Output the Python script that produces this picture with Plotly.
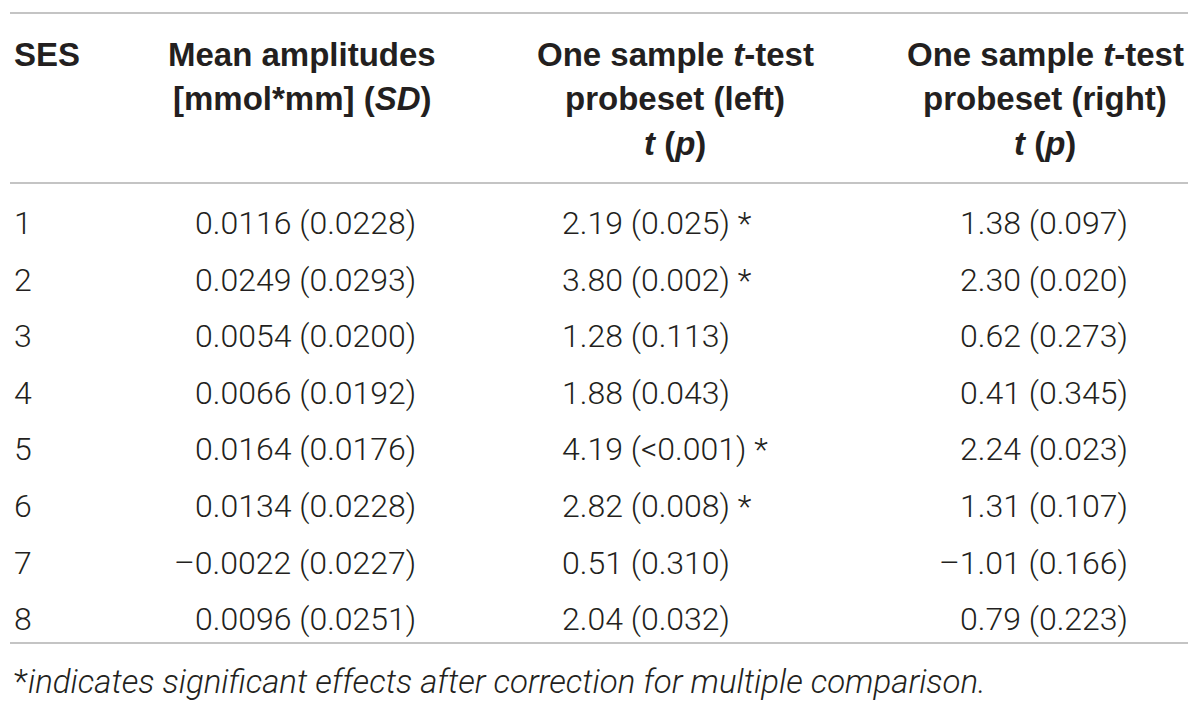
import plotly.graph_objects as go

# ---- data ----
ses = ["1", "2", "3", "4", "5", "6", "7", "8"]
mean_amp = ["0.0116", "0.0249", "0.0054", "0.0066", "0.0164", "0.0134", "–0.0022", "0.0096"]
mean_sd = ["0.0228", "0.0293", "0.0200", "0.0192", "0.0176", "0.0228", "0.0227", "0.0251"]
t_left = ["2.19", "3.80", "1.28", "1.88", "4.19", "2.82", "0.51", "2.04"]
p_left = ["0.025", "0.002", "0.113", "0.043", "<0.001", "0.008", "0.310", "0.032"]
sig_left = [True, True, False, False, True, True, False, False]
t_right = ["1.38", "2.30", "0.62", "0.41", "2.24", "1.31", "–1.01", "0.79"]
p_right = ["0.097", "0.020", "0.273", "0.345", "0.023", "0.107", "0.166", "0.223"]

header_ses = ["SES"]
header_mean = ["Mean amplitudes", "[mmol*mm] (<i>SD</i>)"]
header_left = ["One sample <i>t</i>-test", "probeset (left)", "<i>t</i> (<i>p</i>)"]
header_right = ["One sample <i>t</i>-test", "probeset (right)", "<i>t</i> (<i>p</i>)"]
footnote = "*<i>indicates significant effects after correction for multiple comparison.</i>"

# ---- style ----
W, H = 1200, 705
TXT = "#231f20"
LINE = "#c4c4c4"
HEAD_FONT = dict(family="Liberation Sans, Arial, sans-serif", size=33, color=TXT, weight=700)
BODY_FONT = dict(family="Roboto, Liberation Sans, sans-serif", size=32, color=TXT, weight=300)
FOOT_FONT = dict(family="Roboto, Liberation Sans, sans-serif", size=33, color=TXT, weight=300)

fig = go.Figure()
fig.add_trace(go.Scatter(x=[0, W], y=[0, H], mode="markers", marker=dict(opacity=0), hoverinfo="skip", showlegend=False))

ann = []
def add(text, x, y, xanchor, font):
    ann.append(dict(text=text, x=x, y=y, xref="x", yref="y", xanchor=xanchor, yanchor="middle",
                    showarrow=False, font=font, align="left"))

head_y0, head_dy = 54, 44.5
for i, t in enumerate(header_ses):
    add("<b>%s</b>" % t, 12, head_y0 + i * head_dy, "left", HEAD_FONT)
for i, t in enumerate(header_mean):
    add("<b>%s</b>" % t, 302, head_y0 + i * head_dy, "center", HEAD_FONT)
for i, t in enumerate(header_left):
    add("<b>%s</b>" % t, 675, head_y0 + i * head_dy, "center", HEAD_FONT)
for i, t in enumerate(header_right):
    add("<b>%s</b>" % t, 1045, head_y0 + i * head_dy, "center", HEAD_FONT)

row_y0, row_dy = 223, 56.6
for i in range(len(ses)):
    y = row_y0 + i * row_dy
    add(ses[i], 12, y, "left", BODY_FONT)
    add("%s (%s)" % (mean_amp[i], mean_sd[i]), 418, y, "right", BODY_FONT)
    add("%s (%s)%s" % (t_left[i], p_left[i], " *" if sig_left[i] else ""), 560, y, "left", BODY_FONT)
    add("%s (%s)" % (t_right[i], p_right[i]), 1130, y, "right", BODY_FONT)

add(footnote, 12, 681, "left", FOOT_FONT)

shapes = []
for yl in [13, 183, 643]:
    shapes.append(dict(type="line", xref="x", yref="y", x0=10, x1=1188, y0=yl, y1=yl,
                       line=dict(color=LINE, width=2)))

fig.update_layout(
    width=W, height=H, margin=dict(l=0, r=0, t=0, b=0),
    paper_bgcolor="white", plot_bgcolor="white",
    xaxis=dict(range=[0, W], visible=False, fixedrange=True),
    yaxis=dict(range=[H, 0], visible=False, fixedrange=True),
    annotations=ann, shapes=shapes, showlegend=False,
)
fig.write_html("out.html", config={"displayModeBar": False},
               post_script="document.body.style.margin='0';document.body.style.overflow='hidden';")
